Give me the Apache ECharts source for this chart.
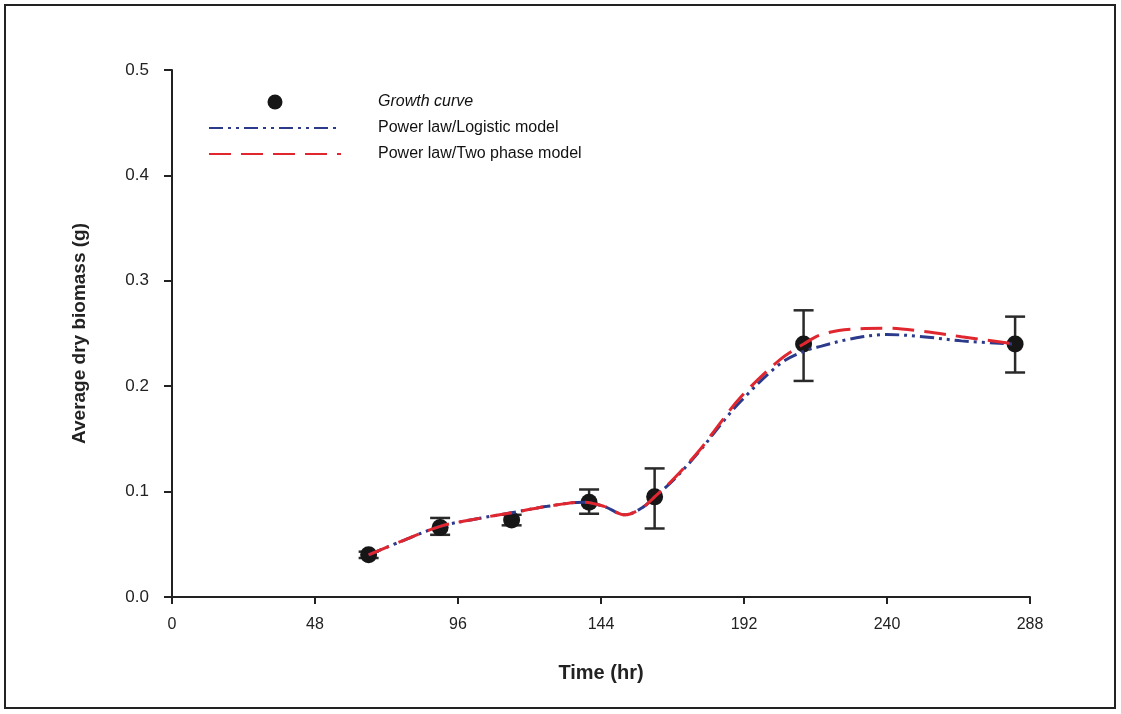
<!DOCTYPE html>
<html>
<head>
<meta charset="utf-8">
<title>Average dry biomass</title>
<script src="https://cdn.jsdelivr.net/npm/echarts@6/dist/echarts.min.js"></script>
<style>
  * { margin: 0; padding: 0; }
  body { background: #fff; }
  #main { width: 1121px; height: 714px; }
</style>
</head>
<body>
<div id="main"></div>
<script>
// measured growth curve (hr, g) with error bar ends
var timeGrowth = [66, 90, 114, 140, 162, 212, 283];
var biomass    = [0.040, 0.066, 0.073, 0.090, 0.095, 0.240, 0.240];
var errLow     = [0.037, 0.059, 0.068, 0.079, 0.065, 0.205, 0.213];
var errHigh    = [0.043, 0.075, 0.078, 0.102, 0.122, 0.272, 0.266];

// fitted model curves
var modelTime   = [66, 78, 90, 102, 114, 126, 138, 145, 152, 158, 162, 168, 177, 184, 191, 204, 212, 218, 228, 240, 252, 265, 283];
var logisticFit = [0.040, 0.054, 0.067, 0.074, 0.080, 0.086, 0.090, 0.086, 0.078, 0.085, 0.095, 0.110, 0.138, 0.163, 0.186, 0.221, 0.233, 0.238, 0.245, 0.249, 0.247, 0.243, 0.240];
var twoPhaseFit = [0.040, 0.054, 0.067, 0.074, 0.080, 0.086, 0.090, 0.086, 0.078, 0.085, 0.095, 0.111, 0.139, 0.165, 0.190, 0.225, 0.240, 0.249, 0.254, 0.255, 0.252, 0.247, 0.240];

var xTicks = [0, 48, 96, 144, 192, 240, 288];

function pairs(xs, ys) {
  var out = [];
  for (var i = 0; i < xs.length; i++) out.push([xs[i], ys[i]]);
  return out;
}

var errData = [];
for (var i = 0; i < timeGrowth.length; i++) {
  errData.push([timeGrowth[i], errLow[i], errHigh[i]]);
}

var myChart = echarts.init(document.getElementById('main'));

var option = {
  backgroundColor: '#ffffff',
  animation: false,
  textStyle: { fontFamily: 'Liberation Sans, Arial, sans-serif' },
  grid: { left: 172, right: 91, top: 70, bottom: 117 },
  graphic: [{
    type: 'rect',
    shape: { x: 5, y: 5, width: 1110, height: 703 },
    style: { fill: 'none', stroke: '#222', lineWidth: 2 },
    silent: true
  }],
  legend: {
    orient: 'vertical',
    left: 203,
    top: 89,
    itemWidth: 132,
    itemHeight: 15,
    itemGap: 10,
    textStyle: { fontSize: 16, color: '#111', padding: [0, 0, 0, 32] },
    data: [
      { name: 'Growth curve', textStyle: { fontStyle: 'italic' } },
      { name: 'Power law/Logistic model', itemStyle: { opacity: 0 } },
      { name: 'Power law/Two phase model', itemStyle: { opacity: 0 } }
    ]
  },
  xAxis: {
    type: 'value',
    min: 0,
    max: 288,
    interval: 48,
    name: 'Time (hr)',
    nameLocation: 'middle',
    nameGap: 66,
    nameTextStyle: { fontSize: 20, fontWeight: 'bold', color: '#222' },
    axisLine: { lineStyle: { color: '#222', width: 2 } },
    axisTick: { show: true, length: 7, lineStyle: { color: '#222', width: 2 } },
    axisLabel: { fontSize: 16, color: '#222', margin: 20,
      customValues: xTicks },
    splitLine: { show: false }
  },
  yAxis: {
    type: 'value',
    min: 0,
    max: 0.5,
    interval: 0.1,
    name: 'Average dry biomass (g)',
    nameLocation: 'middle',
    nameGap: 83,
    nameTextStyle: { fontSize: 19, fontWeight: 'bold', color: '#222' },
    axisLine: { show: true, lineStyle: { color: '#222', width: 2 } },
    axisTick: { show: true, length: 8, lineStyle: { color: '#222', width: 2 } },
    axisLabel: { fontSize: 17, color: '#222', margin: 23,
      formatter: function (v) { return v.toFixed(1); } },
    splitLine: { show: false }
  },
  series: [
    {
      name: 'Error bars',
      type: 'custom',
      z: 3,
      data: errData,
      renderItem: function (params, api) {
        var x = api.value(0);
        var lo = api.coord([x, api.value(1)]);
        var hi = api.coord([x, api.value(2)]);
        var hw = 10;
        var st = { stroke: '#2a2a2a', lineWidth: 2.5 };
        return {
          type: 'group',
          children: [
            { type: 'line', shape: { x1: lo[0], y1: lo[1], x2: hi[0], y2: hi[1] }, style: st },
            { type: 'line', shape: { x1: lo[0] - hw, y1: lo[1], x2: lo[0] + hw, y2: lo[1] }, style: st },
            { type: 'line', shape: { x1: hi[0] - hw, y1: hi[1], x2: hi[0] + hw, y2: hi[1] }, style: st }
          ]
        };
      }
    },
    {
      name: 'Growth curve',
      type: 'scatter',
      z: 4,
      symbol: 'circle',
      symbolSize: 17,
      itemStyle: { color: '#161616', opacity: 1 },
      data: pairs(timeGrowth, biomass)
    },
    {
      name: 'Power law/Logistic model',
      type: 'line',
      z: 5,
      smooth: 0.35,
      symbol: 'none',
      color: '#2c3a8c',
      lineStyle: { color: '#2c3a8c', width: 3, type: [14, 5, 3, 5, 3, 5] },
      data: pairs(modelTime, logisticFit)
    },
    {
      name: 'Power law/Two phase model',
      type: 'line',
      z: 6,
      smooth: 0.35,
      symbol: 'none',
      color: '#e0262f',
      lineStyle: { color: '#e0262f', width: 3, type: [22, 10] },
      data: pairs(modelTime, twoPhaseFit)
    }
  ]
};

myChart.setOption(option);
</script>
</body>
</html>
